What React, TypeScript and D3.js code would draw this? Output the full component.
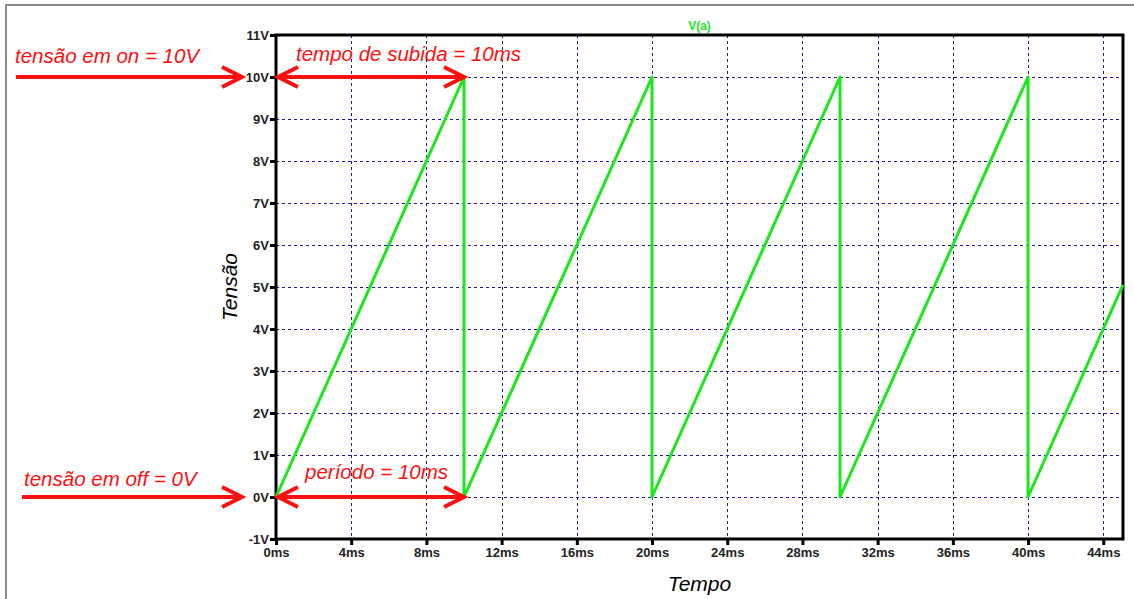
import React, { useRef, useEffect } from 'react';
import * as d3 from 'd3';

// sawtooth trace V(a): time in ms, voltage in V
const timeMs = [0, 10, 10, 20, 20, 30, 30, 40, 40, 45.05];
const voltage = [0, 10, 0, 10, 0, 10, 0, 10, 0, 5.05];

const xTicks = [0, 4, 8, 12, 16, 20, 24, 28, 32, 36, 40, 44];
const yTicks = [-1, 0, 1, 2, 3, 4, 5, 6, 7, 8, 9, 10, 11];

const traceName = 'V(a)';
const xTitle = 'Tempo';
const yTitle = 'Tensão';

const notes = {
  on: 'tensão em on = 10V',
  off: 'tensão em off = 0V',
  rise: 'tempo de subida = 10ms',
  period: 'período = 10ms',
};

const W = 1134;
const H = 599;

const App = () => {
  const ref = useRef<SVGSVGElement | null>(null);

  useEffect(() => {
    if (!ref.current) return;
    const svg = d3.select(ref.current);
    svg.selectAll('*').remove();

    const margin = { top: 35, right: 11, bottom: 60, left: 276 };
    const width = W - margin.left - margin.right;
    const height = H - margin.top - margin.bottom;

    const x = d3.scaleLinear().domain([0, 45.05]).range([margin.left, margin.left + width]);
    const y = d3.scaleLinear().domain([-1, 11]).range([margin.top + height, margin.top]);

    const font = '"Liberation Sans", Arial, sans-serif';
    const red = '#ff1010';

    // outer frame (gray, top and left only visible)
    svg.append('path')
      .attr('d', `M6,${H} L6,5 L${W},5`)
      .attr('fill', 'none')
      .attr('stroke', '#8a8a8a')
      .attr('stroke-width', 2);

    // grid
    const grid = svg.append('g')
      .attr('stroke', '#1a1aa0')
      .attr('stroke-width', 1)
      .attr('stroke-dasharray', '3,3');
    grid.selectAll('line.v')
      .data(xTicks.filter(d => d > 0))
      .join('line')
      .attr('x1', d => Math.round(x(d)) + 0.5)
      .attr('x2', d => Math.round(x(d)) + 0.5)
      .attr('y1', y(11))
      .attr('y2', y(-1));
    grid.selectAll('line.h')
      .data(yTicks.filter(d => d > -1 && d < 11))
      .join('line')
      .attr('class', 'h')
      .attr('x1', x(0))
      .attr('x2', x(45.05))
      .attr('y1', d => Math.round(y(d)) + 0.5)
      .attr('y2', d => Math.round(y(d)) + 0.5);

    // axes
    const xAxis = svg.append('g')
      .attr('transform', `translate(0,${y(-1)})`)
      .call(d3.axisBottom(x).tickValues(xTicks).tickSize(6).tickPadding(3).tickFormat(d => `${d}ms`));
    const yAxis = svg.append('g')
      .attr('transform', `translate(${x(0)},0)`)
      .call(d3.axisLeft(y).tickValues(yTicks).tickSize(6).tickPadding(1).tickFormat(d => `${d}V`));
    [xAxis, yAxis].forEach(a => {
      a.select('.domain').remove();
      a.selectAll('line').attr('stroke', '#000').attr('stroke-width', 3);
      a.selectAll('text')
        .attr('fill', '#222')
        .style('font-family', font)
        .style('font-weight', 'bold')
        .style('font-size', '13px');
    });

    // plot frame
    svg.append('rect')
      .attr('x', x(0))
      .attr('y', y(11))
      .attr('width', x(45.05) - x(0))
      .attr('height', y(-1) - y(11))
      .attr('fill', 'none')
      .attr('stroke', '#000')
      .attr('stroke-width', 3);

    // trace
    const pts: [number, number][] = timeMs.map((t, i) => [t, voltage[i]]);
    svg.append('path')
      .datum(pts)
      .attr('d', d3.line<[number, number]>().x(d => x(d[0])).y(d => y(d[1])))
      .attr('fill', 'none')
      .attr('stroke', '#1ee61e')
      .attr('stroke-width', 3)
      .attr('stroke-linejoin', 'round');

    svg.append('text')
      .attr('x', (x(0) + x(45.05)) / 2)
      .attr('y', 30)
      .attr('text-anchor', 'middle')
      .attr('fill', '#1ee61e')
      .style('font-family', font)
      .style('font-weight', 'bold')
      .style('font-size', '12px')
      .text(traceName);

    // axis titles
    svg.append('text')
      .attr('x', (x(0) + x(45.05)) / 2)
      .attr('y', 591)
      .attr('text-anchor', 'middle')
      .style('font-family', font)
      .style('font-style', 'italic')
      .style('font-size', '21px')
      .text(xTitle);
    svg.append('text')
      .attr('transform', `translate(237,${(y(11) + y(-1)) / 2}) rotate(-90)`)
      .attr('text-anchor', 'middle')
      .style('font-family', font)
      .style('font-style', 'italic')
      .style('font-size', '21px')
      .text(yTitle);

    // annotations
    const ann = svg.append('g');
    const head = (px: number, py: number, dir: number) =>
      `M${px - dir * 20},${py - 10} L${px},${py} L${px - dir * 20},${py + 10}`;
    const arrow = (x1: number, x2: number, py: number, both: boolean) => {
      let d = `M${x1},${py} L${x2},${py} ` + head(x2, py, 1);
      if (both) d += ' ' + head(x1, py, -1);
      ann.append('path')
        .attr('d', d)
        .attr('fill', 'none')
        .attr('stroke', red)
        .attr('stroke-width', 4)
        .attr('stroke-linejoin', 'miter');
    };
    arrow(16, 242, y(10), false);
    arrow(22, 242, y(0), false);
    arrow(x(0) + 2, x(10), y(10), true);
    arrow(x(0) + 2, x(10), y(0), true);

    const label = (tx: number, ty: number, s: string) =>
      ann.append('text')
        .attr('x', tx)
        .attr('y', ty)
        .attr('fill', red)
        .style('font-family', font)
        .style('font-style', 'italic')
        .style('font-size', '20.5px')
        .text(s);
    label(15, 63, notes.on);
    label(24, 486, notes.off);
    label(296, 61, notes.rise);
    label(305, 479, notes.period);
  }, []);

  return (
    <svg
      ref={ref}
      width={W}
      height={H}
      style={{ position: 'absolute', left: 0, top: 0, background: '#fff' }}
    />
  );
};

export default App;
